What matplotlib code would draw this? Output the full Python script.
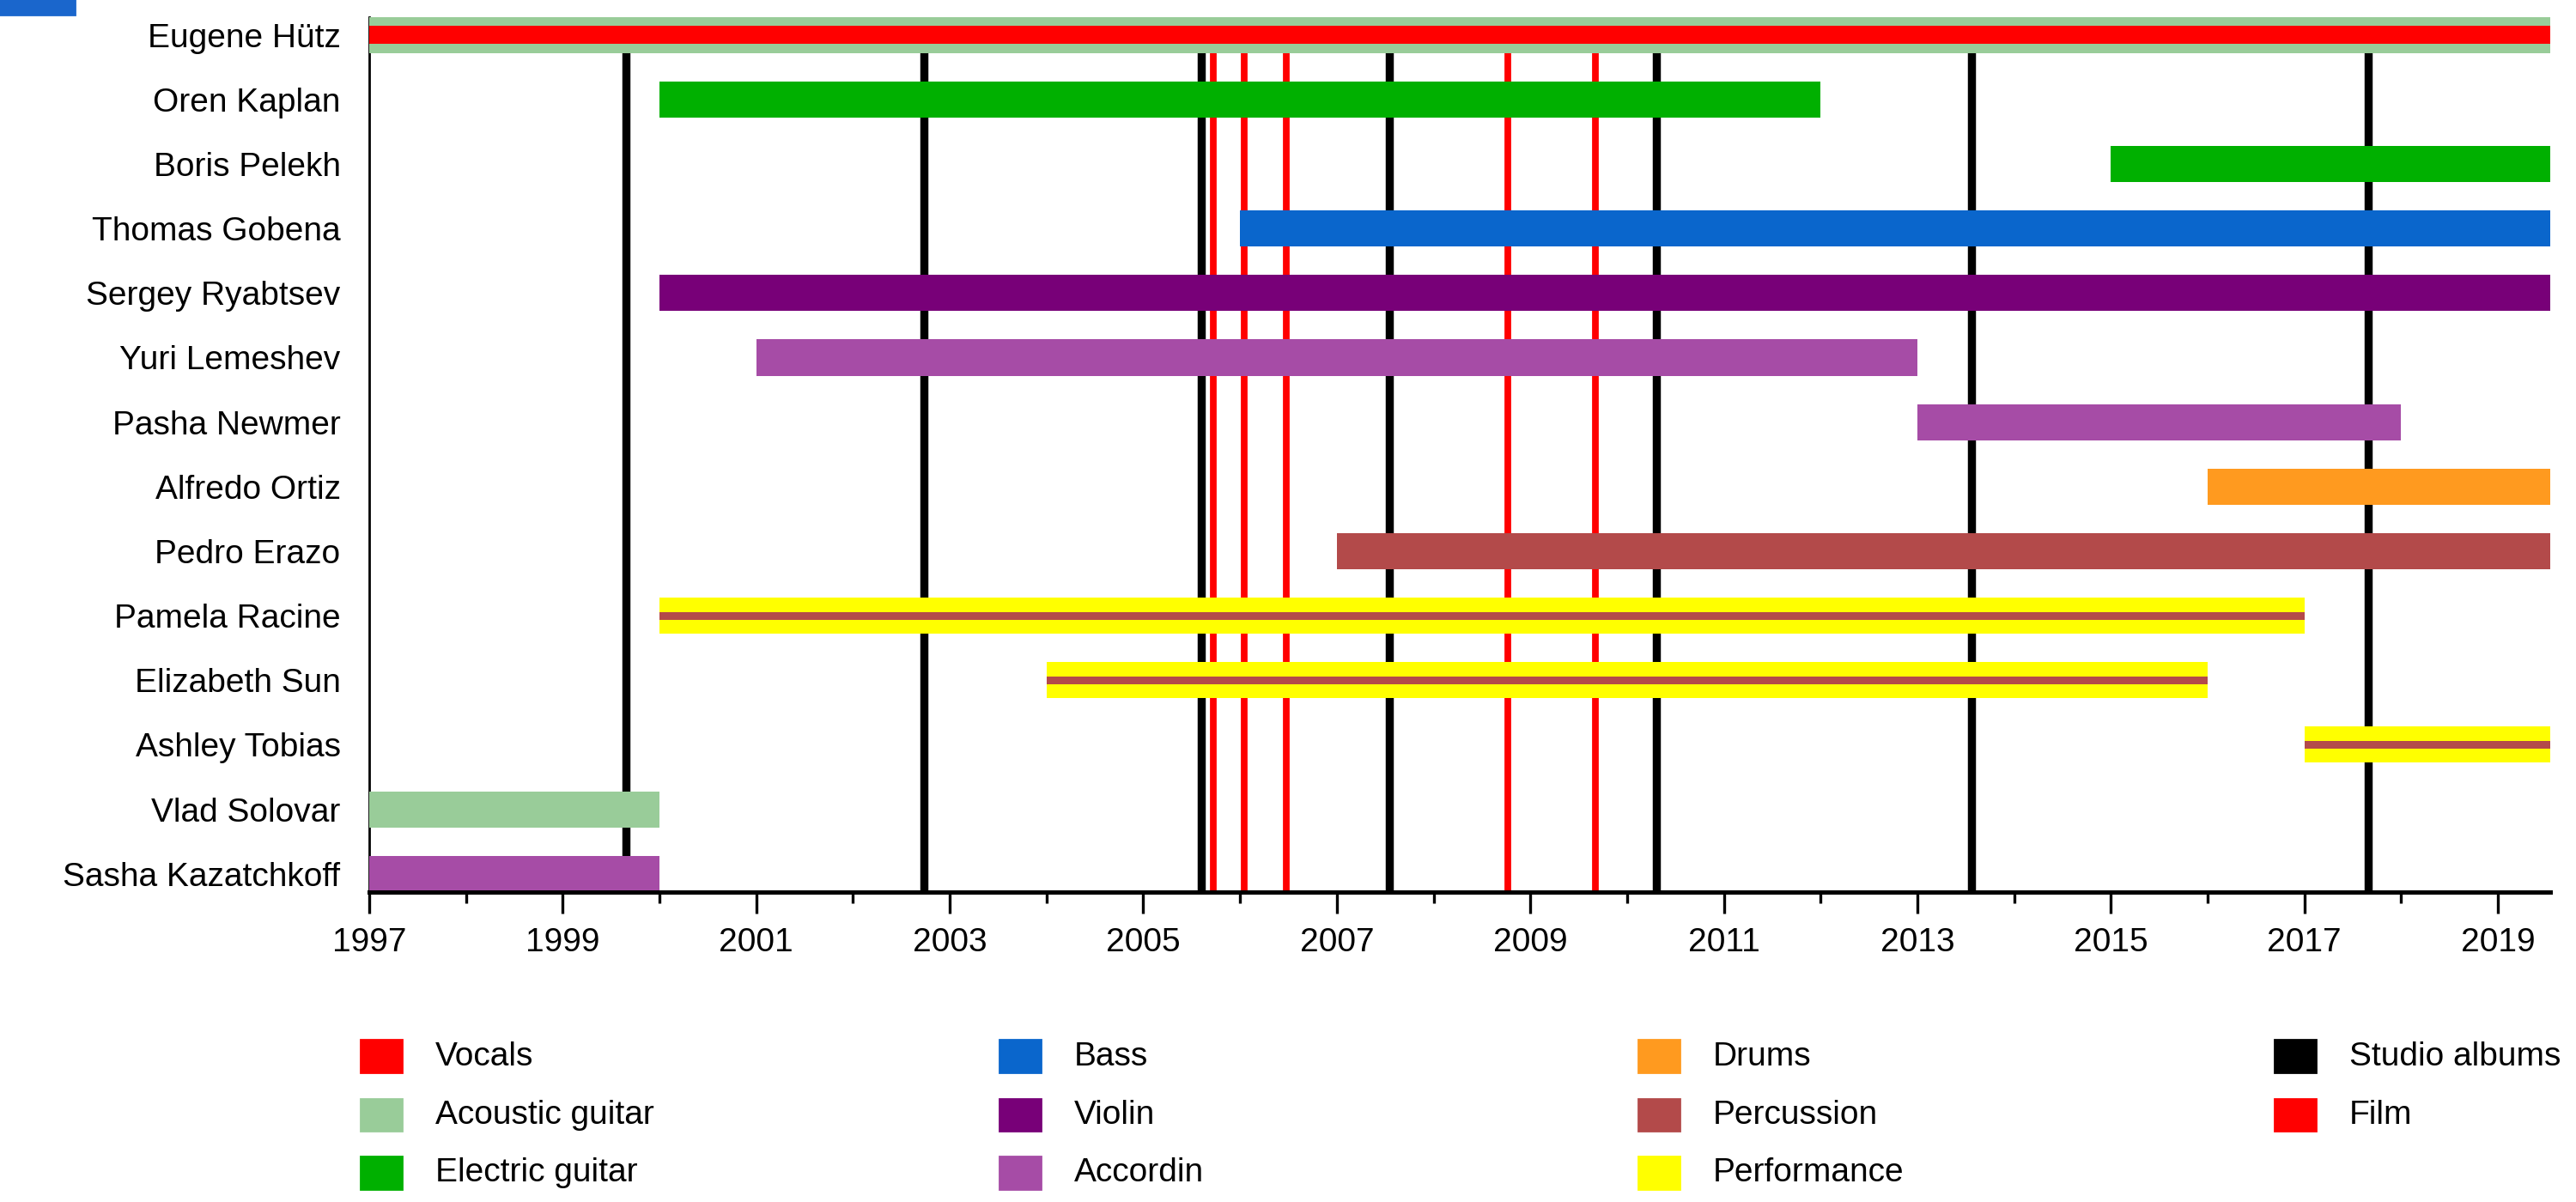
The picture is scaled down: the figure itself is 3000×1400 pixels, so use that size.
import matplotlib
matplotlib.use("Agg")
import matplotlib.pyplot as plt
from matplotlib.patches import Rectangle

plt.rcParams['font.family'] = ['Liberation Sans', 'DejaVu Sans']

START = 1997
END = 2019.54

members = ["Eugene Hütz", "Oren Kaplan", "Boris Pelekh", "Thomas Gobena",
           "Sergey Ryabtsev", "Yuri Lemeshev", "Pasha Newmer", "Alfredo Ortiz",
           "Pedro Erazo", "Pamela Racine", "Elizabeth Sun", "Ashley Tobias",
           "Vlad Solovar", "Sasha Kazatchkoff"]

# (member, from, till)
acoustic_guitar = [("Eugene Hütz", 1997, END), ("Vlad Solovar", 1997, 2000)]
vocals = [("Eugene Hütz", 1997, END)]
electric_guitar = [("Oren Kaplan", 2000, 2012), ("Boris Pelekh", 2015, END)]
bass = [("Thomas Gobena", 2006, END)]
violin = [("Sergey Ryabtsev", 2000, END)]
accordion = [("Yuri Lemeshev", 2001, 2013), ("Pasha Newmer", 2013, 2018),
             ("Sasha Kazatchkoff", 1997, 2000)]
drums = [("Alfredo Ortiz", 2016, END)]
percussion = [("Pedro Erazo", 2007, END)]
performance = [("Pamela Racine", 2000, 2017), ("Elizabeth Sun", 2004, 2016),
               ("Ashley Tobias", 2017, END)]
# thin percussion line drawn inside the performance bars
percussion_inner = [("Pamela Racine", 2000, 2017), ("Elizabeth Sun", 2004, 2016),
                    ("Ashley Tobias", 2017, END)]

studio_albums = [1999.65, 2002.73, 2005.6, 2007.54, 2010.3, 2013.56, 2017.66]
films = [2005.72, 2006.04, 2006.48, 2008.77, 2009.67]

colors = {
    "Vocals": "#ff0000",
    "Acoustic guitar": "#99cc99",
    "Electric guitar": "#00b000",
    "Bass": "#0a66cc",
    "Violin": "#780078",
    "Accordin": "#a64ca6",
    "Drums": "#ff9a1f",
    "Percussion": "#b34a4a",
    "Performance": "#ffff00",
    "Studio albums": "#000000",
    "Film": "#ff0000",
}

legend_cols = [["Vocals", "Acoustic guitar", "Electric guitar"],
               ["Bass", "Violin", "Accordin"],
               ["Drums", "Percussion", "Performance"],
               ["Studio albums", "Film"]]


def draw_bars(ax, spans, color, height):
    for name, a, b in spans:
        y = members.index(name)
        ax.barh(y, b - a, left=a, height=height, color=color, zorder=3)


def main():
    fig = plt.figure(figsize=(15, 7), dpi=200)
    ax = fig.add_axes([0.1433, 0.258, 0.8467, 0.728])

    draw_bars(ax, acoustic_guitar, colors["Acoustic guitar"], 0.56)
    draw_bars(ax, vocals, colors["Vocals"], 0.28)
    draw_bars(ax, electric_guitar, colors["Electric guitar"], 0.56)
    draw_bars(ax, bass, colors["Bass"], 0.56)
    draw_bars(ax, violin, colors["Violin"], 0.56)
    draw_bars(ax, accordion, colors["Accordin"], 0.56)
    draw_bars(ax, drums, colors["Drums"], 0.56)
    draw_bars(ax, percussion, colors["Percussion"], 0.56)
    draw_bars(ax, performance, colors["Performance"], 0.56)
    draw_bars(ax, percussion_inner, colors["Percussion"], 0.12)

    for x in studio_albums:
        ax.axvline(x, color=colors["Studio albums"], lw=3.4, zorder=1)
    for x in films:
        ax.axvline(x, color=colors["Film"], lw=2.8, zorder=2)

    ax.set_xlim(START, END)
    ax.set_ylim(len(members) - 1 + 0.28, -0.28)
    ax.set_yticks(range(len(members)))
    ax.set_yticklabels(members, fontsize=14)
    ax.tick_params(axis='y', length=0, pad=12)

    ax.set_xticks(range(1997, 2020, 2))
    ax.set_xticks(range(1998, 2020, 2), minor=True)
    ax.tick_params(axis='x', which='major', length=9, width=1.2, labelsize=14, pad=6)
    ax.tick_params(axis='x', which='minor', length=4.5, width=1.2)

    ax.spines['top'].set_visible(False)
    ax.spines['right'].set_visible(False)
    ax.spines['bottom'].set_linewidth(1.8)
    ax.spines['left'].set_linewidth(1.0)
    ax.spines['bottom'].set_zorder(5)

    # legend laid out in four columns under the chart
    col_x = [0.140, 0.388, 0.636, 0.883]
    row_y = [0.121, 0.072, 0.024]
    for c, col in enumerate(legend_cols):
        for r, label in enumerate(col):
            fig.add_artist(Rectangle((col_x[c], row_y[r] - 0.013), 0.016, 0.027,
                                     transform=fig.transFigure, color=colors[label]))
            fig.text(col_x[c] + 0.029, row_y[r], label, fontsize=14, va='center')

    # blue tab fragment in the upper-left corner
    fig.add_artist(Rectangle((0.0, 0.988), 0.029, 0.012, transform=fig.transFigure,
                             color="#1a66cc"))

    plt.savefig("out.png", dpi=200, facecolor='white')


if __name__ == "__main__":
    main()
